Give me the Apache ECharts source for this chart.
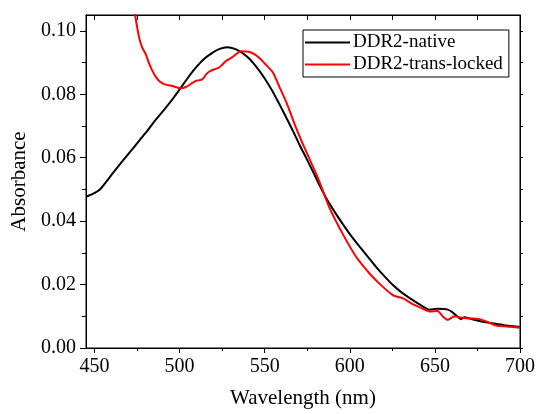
<!DOCTYPE html>
<html>
<head>
<meta charset="utf-8">
<script src="https://cdn.jsdelivr.net/npm/echarts@6/dist/echarts.min.js"></script>
<style>
  html, body { margin: 0; padding: 0; background: #fff; }
  #chart { width: 538px; height: 414px; }
</style>
</head>
<body>
<div id="chart"></div>
<script>
// wavelength (nm) / absorbance
var nativeX = [445, 449, 453, 457, 461, 465, 469, 473, 477, 481, 485, 489, 493, 497, 501, 505, 509.5, 514, 519, 523.5, 528, 532.5, 537, 541, 545, 550, 555, 559, 563, 567, 570.5, 574.5, 578.3, 582, 586, 591, 596, 601, 606, 611, 615.5, 620, 625, 630, 635, 640, 646.8, 649, 651.6, 655, 657.5, 660, 663, 665.3, 667.3, 671, 676, 681, 686, 691, 695, 700];
var nativeY = [0.0477, 0.0486, 0.0499, 0.0525, 0.0553, 0.0580, 0.0606, 0.0632, 0.0659, 0.0685, 0.0713, 0.0739, 0.0765, 0.0793, 0.0823, 0.0853, 0.0884, 0.0910, 0.0930, 0.0943, 0.0948, 0.0943, 0.0930, 0.0912, 0.0887, 0.0850, 0.0806, 0.0765, 0.0723, 0.0680, 0.0640, 0.0598, 0.0557, 0.0515, 0.0474, 0.0430, 0.0390, 0.0352, 0.0318, 0.0285, 0.0255, 0.0228, 0.0200, 0.0177, 0.0158, 0.0141, 0.0121, 0.0122, 0.0124, 0.0123, 0.0121, 0.0114, 0.0100, 0.0091, 0.0097, 0.0092, 0.0085, 0.0080, 0.0076, 0.0072, 0.0069, 0.0066];

var lockedX = [470, 473.9, 476.3, 478, 480.2, 482, 484.1, 486, 488, 490.9, 495.8, 500.7, 503.7, 507, 509.5, 513.4, 515.5, 517.3, 520, 523.2, 525, 527.1, 531, 535.9, 540.8, 545.7, 550.6, 554.9, 558.5, 562.7, 568.6, 574.4, 581.3, 588.1, 595.9, 603.8, 611.6, 617.4, 625.2, 631.1, 637, 642, 646.8, 651.6, 654.6, 657.5, 661.4, 664, 668.3, 672, 676.1, 681, 685.9, 692, 700];
var lockedY = [0.120, 0.105, 0.0977, 0.0948, 0.0925, 0.0898, 0.0873, 0.0855, 0.0842, 0.0832, 0.0826, 0.0819, 0.0823, 0.0834, 0.0842, 0.0847, 0.0862, 0.0871, 0.0878, 0.0884, 0.0893, 0.0904, 0.0917, 0.0936, 0.0934, 0.0920, 0.0894, 0.0868, 0.0825, 0.0775, 0.0692, 0.0619, 0.0536, 0.0442, 0.0359, 0.0287, 0.0235, 0.0203, 0.0167, 0.0157, 0.0138, 0.0126, 0.0115, 0.0117, 0.0100, 0.0089, 0.0100, 0.0097, 0.0094, 0.0093, 0.0091, 0.0082, 0.0071, 0.0068, 0.0064];

var xMajor = [450, 500, 550, 600, 650, 700];
var xMinor = [475, 525, 575, 625, 675];
var xAll = [450, 475, 500, 525, 550, 575, 600, 625, 650, 675, 700];
var yMajor = [0, 0.02, 0.04, 0.06, 0.08, 0.10];
var yMinor = [0.01, 0.03, 0.05, 0.07, 0.09];
var yAll = [0, 0.01, 0.02, 0.03, 0.04, 0.05, 0.06, 0.07, 0.08, 0.09, 0.10];

var FONT = '"Liberation Serif", "Times New Roman", serif';

function zip(xs, ys) {
  var out = [];
  for (var i = 0; i < xs.length; i++) out.push([xs[i], ys[i]]);
  return out;
}

// extra axes that only draw ticks (minor ticks, mirrored top/right)
function tickAxis(pos, vals, len, inside, isX) {
  return {
    type: 'value',
    position: pos,
    min: isX ? 445 : 0,
    max: isX ? 700 : 0.105,
    axisLine: { show: true, onZero: false, lineStyle: { color: '#000', width: 1 } },
    axisTick: { show: true, inside: inside, length: len, customValues: vals, lineStyle: { color: '#000', width: 1 } },
    axisLabel: { show: false },
    splitLine: { show: false }
  };
}

var chart = echarts.init(document.getElementById('chart'));
var option = {
  animation: false,
  backgroundColor: '#fff',
  grid: { left: 86, right: 17, top: 15, bottom: 62, show: true, borderColor: '#000', borderWidth: 1 },
  legend: {
    orient: 'vertical',
    left: 303,
    top: 30,
    padding: [3, 6, 3, 2],
    itemGap: 3,
    itemWidth: 45,
    itemHeight: 2,
    icon: 'rect',
    borderColor: '#000',
    borderWidth: 1,
    borderRadius: 0,
    textStyle: { fontFamily: FONT, fontSize: 19, color: '#000', padding: [0, 0, 0, -2] },
    data: ['DDR2-native', 'DDR2-trans-locked']
  },
  xAxis: [
    {
      type: 'value',
      position: 'bottom',
      min: 445,
      max: 700,
      name: 'Wavelength (nm)',
      nameLocation: 'middle',
      nameGap: 40,
      nameTextStyle: { fontFamily: FONT, fontSize: 21, color: '#000' },
      axisLine: { show: true, onZero: false, lineStyle: { color: '#000', width: 1 } },
      axisTick: { show: true, inside: false, length: 5, customValues: xMajor, lineStyle: { color: '#000' } },
      axisLabel: { customValues: xMajor, fontFamily: FONT, fontSize: 20, color: '#000', margin: 9 },
      splitLine: { show: false }
    },
    tickAxis('bottom', xMinor, 3, false, true),
    tickAxis('top', xAll, 5, true, true)
  ],
  yAxis: [
    {
      type: 'value',
      position: 'left',
      min: 0,
      max: 0.105,
      name: 'Absorbance',
      nameLocation: 'middle',
      nameGap: 56,
      nameTextStyle: { fontFamily: FONT, fontSize: 21, color: '#000' },
      axisLine: { show: true, onZero: false, lineStyle: { color: '#000', width: 1 } },
      axisTick: { show: true, inside: false, length: 6, customValues: yMajor, lineStyle: { color: '#000' } },
      axisLabel: {
        customValues: yMajor,
        fontFamily: FONT, fontSize: 20, color: '#000', margin: 10,
        formatter: function (v) { return v.toFixed(2); }
      },
      splitLine: { show: false }
    },
    tickAxis('left', yMinor, 4, false, false),
    tickAxis('right', yAll, 3, false, false)
  ],
  series: [
    {
      name: 'DDR2-native',
      type: 'line',
      xAxisIndex: 0,
      yAxisIndex: 0,
      smooth: 0.2,
      symbol: 'none',
      lineStyle: { color: '#000', width: 2 },
      itemStyle: { color: '#000' },
      data: zip(nativeX, nativeY)
    },
    {
      name: 'DDR2-trans-locked',
      type: 'line',
      xAxisIndex: 0,
      yAxisIndex: 0,
      smooth: 0.2,
      symbol: 'none',
      clip: true,
      lineStyle: { color: '#f00', width: 2 },
      itemStyle: { color: '#f00' },
      data: zip(lockedX, lockedY)
    }
  ]
};
chart.setOption(option);
</script>
</body>
</html>
